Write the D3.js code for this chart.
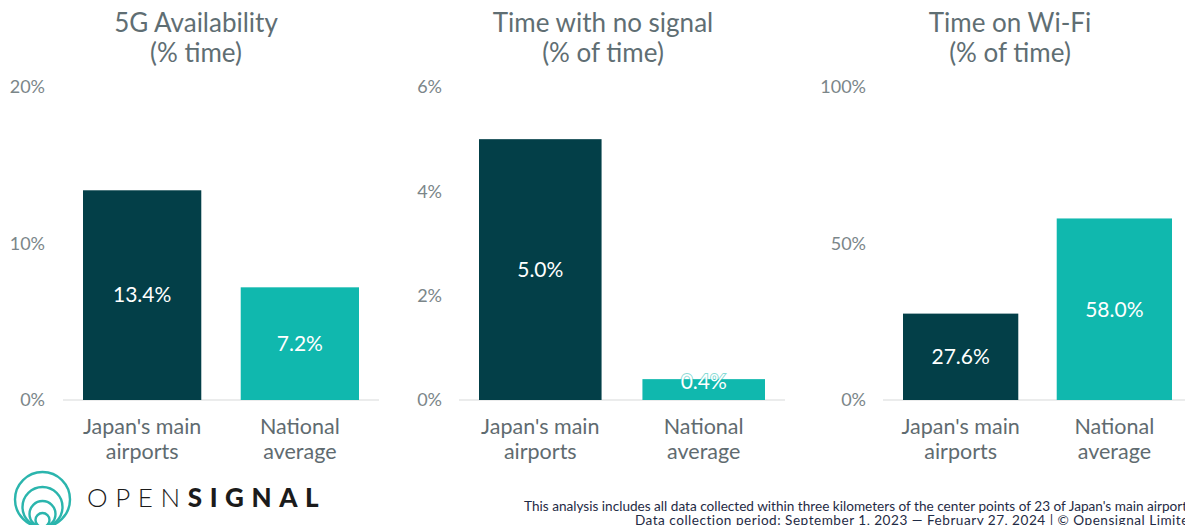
<!DOCTYPE html>
<html>
<head>
<meta charset="utf-8">
<script src="https://cdn.jsdelivr.net/npm/d3@7"></script>
<style>
  html, body { margin: 0; padding: 0; background: #fff; }
  svg { display: block; font-family: Lato, "Open Sans", sans-serif; }
</style>
</head>
<body>
<script>
// chart data
var categories = ["Japan's main airports", "National average"]
var categoryLines = [["Japan's main", "airports"], ["National", "average"]]
var titles = [["5G Availability", "(% time)"], ["Time with no signal", "(% of time)"], ["Time on Wi-Fi", "(% of time)"]]
var fiveGValues = [13.4, 7.2]
var noSignalValues = [5.0, 0.4]
var wifiValues = [27.6, 58.0]
var fiveGTicks = [0, 10, 20]
var noSignalTicks = [0, 2, 4, 6]
var wifiTicks = [0, 50, 100]
var footnote = ["This analysis includes all data collected within three kilometers of the center points of 23 of Japan's main airports",
  "Data collection period: September 1, 2023 \u2014 February 27, 2024 | \u00a9 Opensignal Limited"]

var colors = ['#033f48', '#10b8ae']
var W = 1185, H = 525

// layout of each small chart
var panels = [
  {values: fiveGValues, ticks: fiveGTicks, title: titles[0], x0: 83, x1: 359, axisX: 45, titleX: 196},
  {values: noSignalValues, ticks: noSignalTicks, title: titles[1], x0: 479, x1: 765, axisX: 442, titleX: 603},
  {values: wifiValues, ticks: wifiTicks, title: titles[2], x0: 903, x1: 1172, axisX: 866, titleX: 1010}
]

var svg = d3.select('body').append('svg').attr('width', W).attr('height', H)

panels.forEach(function(p, i) {
  var y = d3.scaleLinear().domain([0, d3.max(p.ticks)]).range([400, 87])
  var x = d3.scaleBand().domain(categories).range([p.x0, p.x1]).paddingInner(0.25).paddingOuter(0)

  var g = svg.append('g').attr('class', 'panel' + i)

  // title
  g.selectAll('text.title')
    .data(p.title)
    .enter().append('text')
      .attr('class', 'title')
      .attr('x', p.titleX)
      .attr('y', (d, k) => 32 + k * 30)
      .attr('text-anchor', 'middle')
      .attr('font-size', 26)
      .attr('fill', '#5f6e73')
      .text(d => d)

  // y axis labels
  var axis = g.append('g')
    .attr('transform', `translate(${p.axisX},0)`)
    .call(d3.axisLeft(y).tickValues(p.ticks).tickSize(0).tickPadding(0).tickFormat(d => d + '%'))
  axis.select('.domain').remove()
  axis.selectAll('text').attr('font-size', 18).attr('fill', '#7b8689').attr('font-family', 'Lato, sans-serif')

  // baseline
  g.append('line')
    .attr('x1', p.x0 - 20).attr('x2', p.x1 + 20)
    .attr('y1', y(0)).attr('y2', y(0))
    .attr('stroke', '#e4e6e6').attr('stroke-width', 1.5)

  // bars
  g.selectAll('rect.bar' + i)
    .data(p.values)
    .enter().append('rect')
      .attr('class', 'bar' + i)
      .attr('x', (d, k) => x(categories[k]))
      .attr('width', x.bandwidth())
      .attr('y', d => y(d))
      .attr('height', d => y(0) - y(d))
      .attr('fill', (d, k) => colors[k])

  // value labels
  g.selectAll('text.val' + i)
    .data(p.values)
    .enter().append('text')
      .attr('class', 'val' + i)
      .attr('x', (d, k) => x(categories[k]) + x.bandwidth() / 2)
      .attr('y', d => Math.min((y(d) + y(0)) / 2, y(0) - 18))
      .attr('dy', '0.35em')
      .attr('text-anchor', 'middle')
      .attr('font-size', 21)
      .attr('fill', '#fff')
      .attr('stroke', d => (y(0) - y(d)) < 30 ? 'rgba(16,184,174,0.5)' : 'none')
      .attr('stroke-width', 2)
      .attr('paint-order', 'stroke')
      .text(d => d.toFixed(1) + '%')

  // category labels
  categoryLines.forEach(function(lines, k) {
    g.selectAll('text.cat' + i + '_' + k)
      .data(lines)
      .enter().append('text')
        .attr('class', 'cat' + i + '_' + k)
        .attr('x', x(categories[k]) + x.bandwidth() / 2)
        .attr('y', (d, j) => 434 + j * 25)
        .attr('text-anchor', 'middle')
        .attr('font-size', 21.5)
        .attr('fill', '#5f6b70')
        .text(d => d)
  })
})

// logo
var logo = svg.append('g').attr('fill', 'none').attr('stroke', '#2bb5ad').attr('stroke-width', 2.4)
;[27.5, 20, 13, 7].forEach(function(r) {
  logo.append('circle').attr('cx', 42.5).attr('cy', 527 - r).attr('r', r)
})

var brand = svg.append('text')
  .attr('x', 87).attr('y', 507)
  .attr('font-size', 26)
  .attr('letter-spacing', 7.6)
  .attr('fill', '#1b1b1b')
  .attr('font-family', 'Lato, sans-serif')
brand.append('tspan').attr('font-weight', 300).text('OPEN')
brand.append('tspan').attr('font-weight', 900).text('SIGNAL')

// footnote
svg.selectAll('text.foot')
  .data(footnote)
  .enter().append('text')
    .attr('class', 'foot')
    .attr('x', (d, k) => 1193 + k * 4)
    .attr('y', (d, k) => 511 + k * 14)
    .attr('text-anchor', 'end')
    .attr('font-size', 13.6)
    .attr('letter-spacing', (d, k) => k ? 0.5 : 0)
    .attr('fill', '#1f2b45')
    .text(d => d)
</script>
</body>
</html>
